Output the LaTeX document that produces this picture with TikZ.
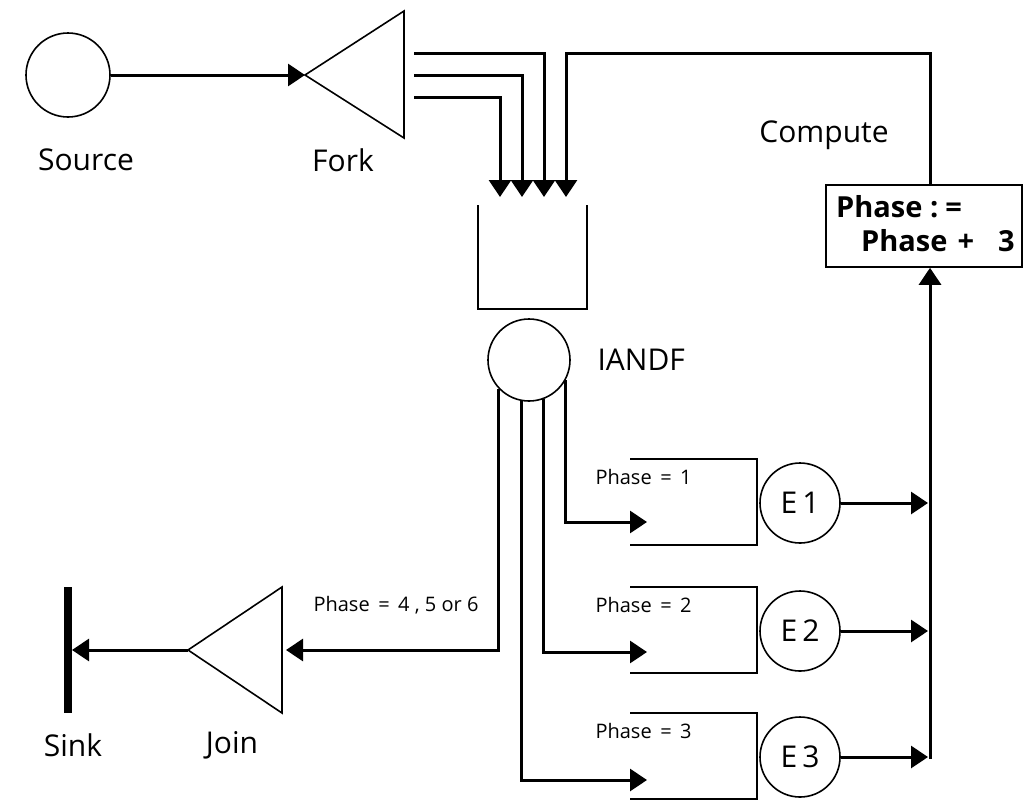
\documentclass[tikz,border=0pt]{standalone}
\usepackage{fontspec}
\setmainfont{Open Sans}
\usetikzlibrary{arrows.meta}
\tikzset{
  flow/.style={line width=3pt, -{Triangle[length=17pt,width=22pt]}},
  outline/.style={line width=1.6pt},
  ring/.style={circle, draw, line width=1.6pt, inner sep=0pt},
  lbl/.style={font=\fontsize{30}{36}\selectfont},
  small lbl/.style={font=\fontsize{20}{24}\selectfont, anchor=west},
  calc lbl/.style={font=\fontsize{29}{34}\selectfont\bfseries, anchor=base west, inner sep=0pt},
}
\begin{document}
\begin{tikzpicture}[x=1pt,y=-1pt]
  \useasboundingbox (0,0) rectangle (1024,801);
  % source and fork
  \node[ring, minimum size=84pt] (source) at (68,75) {};
  \node[lbl] (sourcelbl) at (86,160) {Source};
  \draw[outline] (305,75) coordinate (forktip) -- (404,11) -- (404,138) -- cycle;
  \node[lbl] (forklbl) at (343,160) {Fork};
  \draw[flow] (source) -- (forktip);
  % fork outputs into the buffer
  \foreach \y/\x/\n in {53/544/1, 75/522/2, 97/500/3} {
    \coordinate (fo\n) at (414,\y);
    \coordinate (bi\n) at (\x,197);
    \draw[flow] (fo\n) -| (bi\n);
  }
  \coordinate (bi4) at (566,197);
  \draw[outline] (478,205) -- (478,309) -- (587,309) -- (587,205);
  % IANDF
  \node[ring, minimum size=82pt] (iandf) at (529,360) {};
  \node[lbl, anchor=west] (iandflbl) at (594,360) {IANDF};
  % E stages
  \foreach \n/\y in {1/503, 2/631, 3/757} {
    \draw[outline] (630,\y-44) -- (757,\y-44) -- (757,\y+42) -- (630,\y+42);
    \node[small lbl] (ph\n) at (592,\y-26) {Phase\, = \,\n};
    \node[ring, minimum size=80pt, lbl] (e\n) at (800,\y) {E\,\n};
    \coordinate (bus\n) at (928,\y);
    \draw[flow] (e\n) -- (bus\n);
  }
  \coordinate (in1) at (647,522);
  \coordinate (in2) at (647,652);
  \coordinate (in3) at (647,780);
  \draw[flow] (iandf.-29) |- (in1);
  \draw[flow] (iandf.-70) |- (in2);
  \draw[flow] (iandf.-100) |- (in3);
  % compute
  \node[draw, outline, minimum width=196pt, minimum height=82pt] (calc) at (924,226) {};
  \node[calc lbl] (calc1) at (836,217) {Phase :\hspace{7pt}=};
  \node[calc lbl] (calc2) at (861,251) {Phase\hspace{10pt}+\hspace{24pt}3};
  \node[lbl] (calclbl) at (824,135) {Compute};
  \coordinate (busbottom) at (930,759);
  \draw[flow] (busbottom) -- (calc.south -| busbottom);
  \coordinate (ctop) at (930,53);
  \draw[flow] (calc.north -| busbottom) -- (ctop) -| (bi4);
  % join and sink
  \draw[outline] (188,650) coordinate (jointip) -- (282,587) -- (282,713) -- cycle;
  \coordinate (joinin) at (286,650);
  \draw[flow] (iandf.-137) |- (joinin);
  \node[small lbl] (ph4) at (310,605) {Phase\, = \,4 , 5 or 6};
  \draw[line width=8pt] (68,587) coordinate (sinktop) -- (68,713);
  \coordinate (sink) at (72,650);
  \draw[flow] (jointip) -- (sink);
  \node[lbl] (sinklbl) at (73,745) {Sink};
  \node[lbl] (joinlbl) at (232,745) {Join};
\end{tikzpicture}
\end{document}
